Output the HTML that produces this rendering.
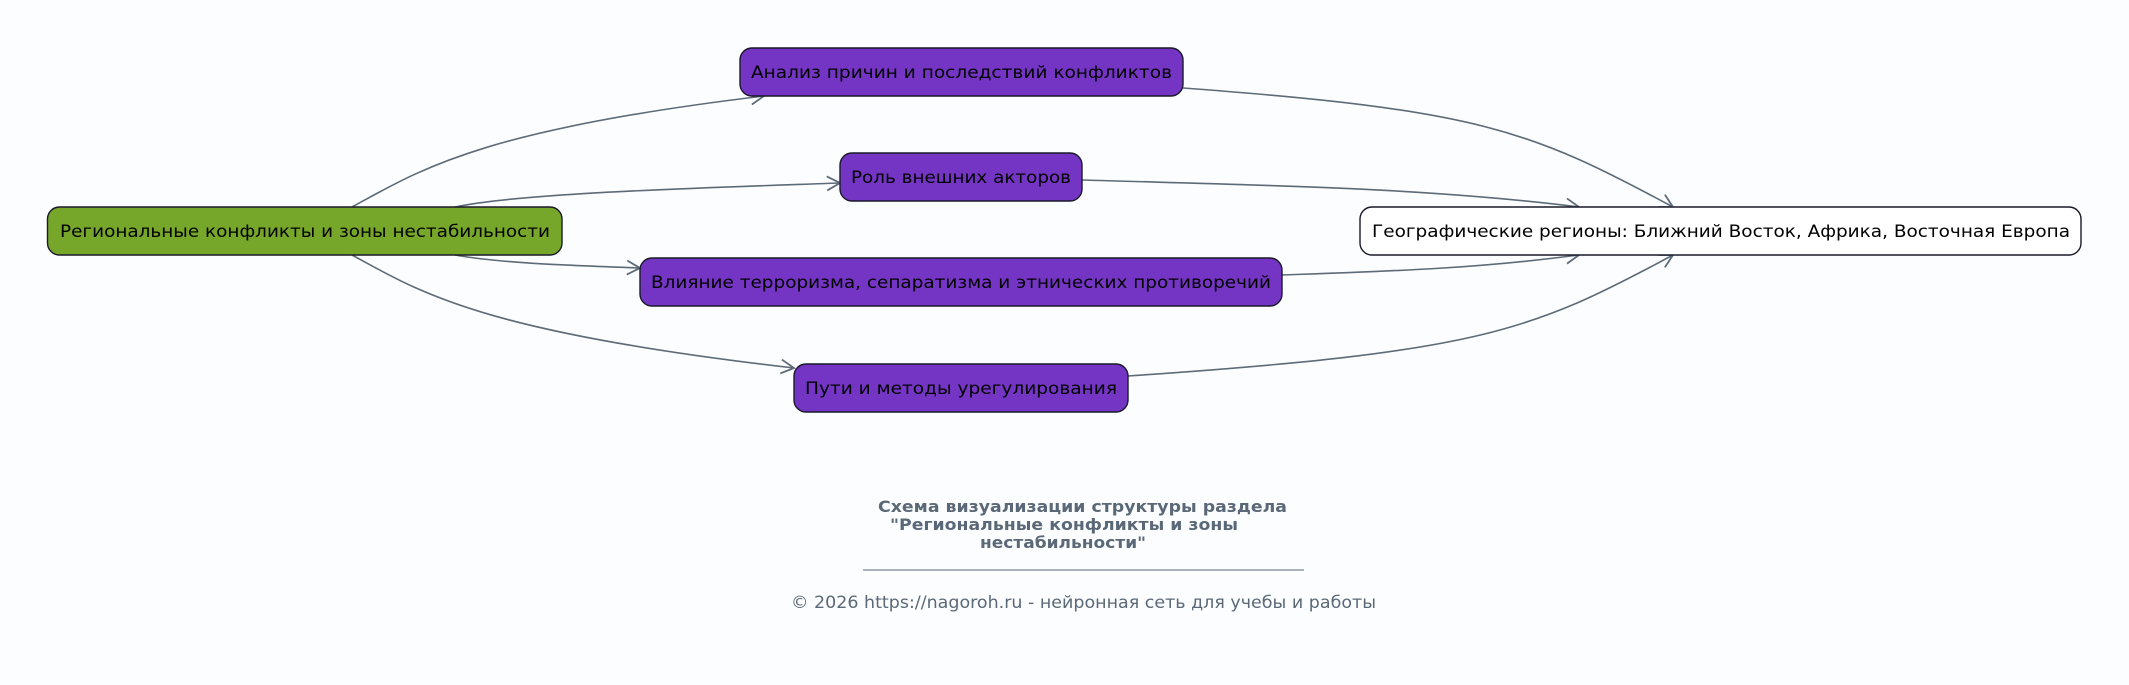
<!DOCTYPE html>
<html><head><meta charset="utf-8"><style>
html,body{margin:0;padding:0;background:#fcfdfe;}
svg{display:block;}
text{font-family:"DejaVu Sans","Liberation Sans",sans-serif;}
</style></head><body>
<svg width="2129" height="685" viewBox="0 0 2129 685" xmlns="http://www.w3.org/2000/svg">
<defs>
<marker id="a" markerWidth="16" markerHeight="16" refX="14" refY="8" orient="auto" markerUnits="userSpaceOnUse">
<path d="M1,1 L14,8 L1,15" fill="none" stroke="#5d6b79" stroke-width="1.8"/>
</marker>
</defs>
<rect width="2129" height="685" fill="#fcfdfe"/>
<g fill="none" stroke="#5d6b79" stroke-width="1.6" marker-end="url(#a)">
<path d="M352,207 C420,170 480,130 764,96"/>
<path d="M455,207 C520,193 700,188 840,183"/>
<path d="M455,255 C500,263 560,265 640,268"/>
<path d="M352,255 C420,292 480,332 794,368"/>
<path d="M1183,88 C1480,110 1530,130 1673,207"/>
<path d="M1082,180 C1250,185 1420,187 1579,207"/>
<path d="M1282,275 C1400,271 1480,268 1579,255"/>
<path d="M1128,376 C1480,352 1530,332 1673,255"/>
</g>
<g stroke="#1a1a2a" stroke-width="1.4">
<rect x="47.5" y="207" width="514.5" height="48" rx="12" fill="#76a72a"/>
<rect x="740" y="48" width="443" height="48" rx="12" fill="#7535c4"/>
<rect x="840" y="153" width="242" height="48" rx="12" fill="#7535c4"/>
<rect x="640" y="258" width="642" height="48" rx="12" fill="#7535c4"/>
<rect x="794" y="364" width="334" height="48" rx="12" fill="#7535c4"/>
<rect x="1360" y="207" width="721" height="48" rx="12" fill="#ffffff"/>
</g>
<g font-size="17" fill="#000">
<text x="60" y="237" textLength="490" lengthAdjust="spacingAndGlyphs">Региональные конфликты и зоны нестабильности</text>
<text x="751" y="78" textLength="421" lengthAdjust="spacingAndGlyphs">Анализ причин и последствий конфликтов</text>
<text x="851" y="183" textLength="220" lengthAdjust="spacingAndGlyphs">Роль внешних акторов</text>
<text x="651" y="288" textLength="620" lengthAdjust="spacingAndGlyphs">Влияние терроризма, сепаратизма и этнических противоречий</text>
<text x="805" y="394" textLength="312" lengthAdjust="spacingAndGlyphs">Пути и методы урегулирования</text>
<text x="1372" y="237" textLength="698" lengthAdjust="spacingAndGlyphs">Географические регионы: Ближний Восток, Африка, Восточная Европа</text>
</g>
<g fill="#5a6878" font-weight="bold" font-size="16">
<text x="878" y="512" textLength="409" lengthAdjust="spacingAndGlyphs">Схема визуализации структуры раздела</text>
<text x="890" y="530" textLength="348" lengthAdjust="spacingAndGlyphs">"Региональные конфликты и зоны</text>
<text x="980" y="548" textLength="166" lengthAdjust="spacingAndGlyphs">нестабильности"</text>
</g>
<line x1="863" y1="570" x2="1304" y2="570" stroke="#5a6878" stroke-width="1"/>
<text x="791" y="608" font-size="17" fill="#5a6878" textLength="585" lengthAdjust="spacingAndGlyphs">© 2026 https://nagoroh.ru - нейронная сеть для учебы и работы</text>
</svg>
</body></html>
